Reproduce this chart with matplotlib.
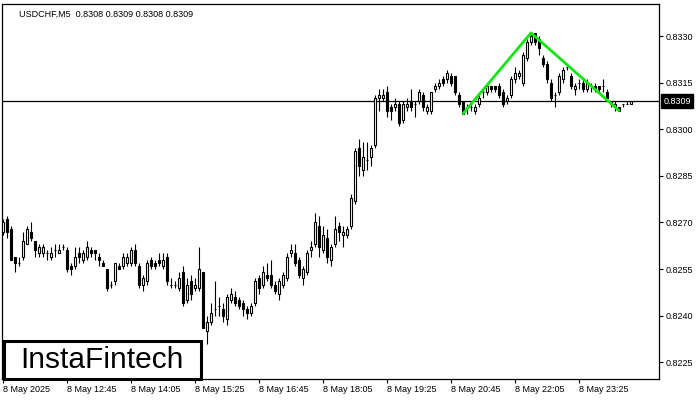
import numpy as np
import matplotlib
matplotlib.use("Agg")
import matplotlib.pyplot as plt
from matplotlib.patches import Rectangle

plt.rcParams['font.family'] = ['Liberation Sans', 'DejaVu Sans']

# USDCHF M5 candles, 8 May 2025 from 11:25
opens = [
    0.8267, 0.8271, 0.8268, 0.8259, 0.8257, 0.8259, 0.8263, 0.8267, 0.8264, 0.8260,
    0.8260, 0.8260, 0.8259, 0.8261, 0.8260, 0.8262, 0.8261, 0.8256, 0.8256, 0.8260,
    0.8258, 0.8259, 0.8261, 0.8261, 0.8259, 0.8257, 0.8255, 0.8250, 0.8251, 0.8256,
    0.8256, 0.8257, 0.8257, 0.8261, 0.8256, 0.8250, 0.8251, 0.8258, 0.8257, 0.8258,
    0.8256, 0.8259, 0.8250, 0.8250, 0.8249, 0.8254, 0.8245, 0.8251, 0.8249, 0.8249,
    0.8254, 0.8235, 0.8238, 0.8242, 0.8243, 0.8242, 0.8239, 0.8245, 0.8246, 0.8245,
    0.8244, 0.8242, 0.8241, 0.8244, 0.8252, 0.8250, 0.8253, 0.8253, 0.8250, 0.8247,
    0.8250, 0.8252, 0.8260, 0.8260, 0.8258, 0.8252, 0.8254, 0.8261, 0.8263, 0.8269,
    0.8261, 0.8265, 0.8258, 0.8263, 0.8269, 0.8266, 0.8266, 0.8269, 0.8277, 0.8294,
    0.8287, 0.8290, 0.8291, 0.8295, 0.8310, 0.8310, 0.8312, 0.8307, 0.8307, 0.8308,
    0.8303, 0.8307, 0.8309, 0.8308, 0.8309, 0.8311, 0.8306, 0.8306, 0.8313, 0.8314,
    0.8316, 0.8316, 0.8317, 0.8317, 0.8311, 0.8309, 0.8307, 0.8307, 0.8306, 0.8308,
    0.8312, 0.8312, 0.8314, 0.8314, 0.8314, 0.8312, 0.8309, 0.8311, 0.8316, 0.8317,
    0.8315, 0.8323, 0.8328, 0.8331, 0.8329, 0.8323, 0.8321, 0.8315, 0.8311, 0.8312,
    0.8316, 0.8320, 0.8317, 0.8313, 0.8315, 0.8315, 0.8313, 0.8314, 0.8314, 0.8314,
    0.8314, 0.8312, 0.8308, 0.8307, 0.8307, 0.8308, 0.8308, 0.8308,
]
highs = [
    0.8271, 0.8272, 0.8269, 0.8259, 0.8259, 0.8267, 0.8269, 0.8270, 0.8264, 0.8263,
    0.8263, 0.8261, 0.8262, 0.8263, 0.8263, 0.8263, 0.8262, 0.8257, 0.8262, 0.8262,
    0.8261, 0.8264, 0.8262, 0.8261, 0.8260, 0.8258, 0.8255, 0.8251, 0.8257, 0.8257,
    0.8260, 0.8260, 0.8262, 0.8263, 0.8257, 0.8253, 0.8258, 0.8259, 0.8258, 0.8260,
    0.8260, 0.8260, 0.8252, 0.8251, 0.8254, 0.8256, 0.8252, 0.8253, 0.8252, 0.8262,
    0.8254, 0.8240, 0.8244, 0.8251, 0.8246, 0.8244, 0.8247, 0.8249, 0.8248, 0.8246,
    0.8245, 0.8243, 0.8244, 0.8252, 0.8253, 0.8256, 0.8257, 0.8258, 0.8251, 0.8252,
    0.8254, 0.8260, 0.8263, 0.8263, 0.8259, 0.8256, 0.8261, 0.8264, 0.8273, 0.8272,
    0.8269, 0.8268, 0.8263, 0.8272, 0.8270, 0.8269, 0.8269, 0.8279, 0.8294, 0.8297,
    0.8296, 0.8296, 0.8295, 0.8311, 0.8313, 0.8313, 0.8314, 0.8308, 0.8310, 0.8309,
    0.8309, 0.8310, 0.8313, 0.8309, 0.8313, 0.8312, 0.8308, 0.8312, 0.8315, 0.8316,
    0.8317, 0.8319, 0.8318, 0.8317, 0.8312, 0.8309, 0.8308, 0.8309, 0.8308, 0.8311,
    0.8313, 0.8315, 0.8314, 0.8314, 0.8315, 0.8313, 0.8311, 0.8317, 0.8320, 0.8319,
    0.8325, 0.8329, 0.8331, 0.8331, 0.8330, 0.8324, 0.8322, 0.8316, 0.8312, 0.8318,
    0.8320, 0.8320, 0.8318, 0.8315, 0.8316, 0.8316, 0.8316, 0.8315, 0.8315, 0.8314,
    0.8316, 0.8313, 0.8309, 0.8309, 0.8307, 0.8308, 0.8309, 0.8309,
]
lows = [
    0.8266, 0.8265, 0.8258, 0.8254, 0.8256, 0.8258, 0.8263, 0.8264, 0.8259, 0.8259,
    0.8259, 0.8258, 0.8258, 0.8259, 0.8260, 0.8261, 0.8254, 0.8253, 0.8255, 0.8257,
    0.8257, 0.8258, 0.8259, 0.8258, 0.8256, 0.8256, 0.8248, 0.8249, 0.8250, 0.8255,
    0.8255, 0.8256, 0.8256, 0.8256, 0.8249, 0.8248, 0.8250, 0.8255, 0.8255, 0.8256,
    0.8255, 0.8250, 0.8249, 0.8249, 0.8248, 0.8243, 0.8244, 0.8245, 0.8248, 0.8248,
    0.8236, 0.8231, 0.8237, 0.8240, 0.8240, 0.8238, 0.8237, 0.8244, 0.8243, 0.8242,
    0.8240, 0.8239, 0.8240, 0.8243, 0.8247, 0.8249, 0.8251, 0.8249, 0.8247, 0.8245,
    0.8249, 0.8251, 0.8259, 0.8256, 0.8252, 0.8250, 0.8253, 0.8259, 0.8262, 0.8259,
    0.8260, 0.8257, 0.8256, 0.8262, 0.8264, 0.8262, 0.8265, 0.8268, 0.8276, 0.8285,
    0.8285, 0.8287, 0.8288, 0.8294, 0.8306, 0.8309, 0.8304, 0.8303, 0.8306, 0.8301,
    0.8302, 0.8306, 0.8306, 0.8304, 0.8308, 0.8306, 0.8305, 0.8305, 0.8312, 0.8313,
    0.8314, 0.8315, 0.8314, 0.8311, 0.8307, 0.8305, 0.8305, 0.8306, 0.8305, 0.8307,
    0.8310, 0.8311, 0.8312, 0.8312, 0.8310, 0.8307, 0.8308, 0.8310, 0.8315, 0.8316,
    0.8314, 0.8322, 0.8327, 0.8327, 0.8324, 0.8320, 0.8315, 0.8309, 0.8307, 0.8311,
    0.8315, 0.8319, 0.8313, 0.8311, 0.8313, 0.8312, 0.8312, 0.8312, 0.8312, 0.8312,
    0.8312, 0.8309, 0.8307, 0.8306, 0.8306, 0.8307, 0.8308, 0.8308,
]
closes = [
    0.8270, 0.8267, 0.8258, 0.8257, 0.8257, 0.8264, 0.8268, 0.8265, 0.8261, 0.8262,
    0.8262, 0.8260, 0.8260, 0.8261, 0.8261, 0.8262, 0.8255, 0.8255, 0.8259, 0.8259,
    0.8260, 0.8262, 0.8260, 0.8260, 0.8258, 0.8256, 0.8249, 0.8250, 0.8257, 0.8255,
    0.8259, 0.8259, 0.8261, 0.8257, 0.8250, 0.8252, 0.8257, 0.8256, 0.8256, 0.8257,
    0.8258, 0.8251, 0.8250, 0.8250, 0.8252, 0.8244, 0.8250, 0.8247, 0.8250, 0.8255,
    0.8236, 0.8238, 0.8241, 0.8242, 0.8243, 0.8240, 0.8246, 0.8247, 0.8244, 0.8243,
    0.8242, 0.8241, 0.8243, 0.8251, 0.8249, 0.8254, 0.8252, 0.8250, 0.8248, 0.8251,
    0.8253, 0.8259, 0.8261, 0.8257, 0.8253, 0.8255, 0.8260, 0.8262, 0.8270, 0.8262,
    0.8266, 0.8259, 0.8262, 0.8268, 0.8267, 0.8267, 0.8268, 0.8278, 0.8293, 0.8288,
    0.8291, 0.8290, 0.8294, 0.8310, 0.8311, 0.8311, 0.8306, 0.8306, 0.8308, 0.8302,
    0.8308, 0.8308, 0.8307, 0.8308, 0.8312, 0.8307, 0.8307, 0.8312, 0.8314, 0.8315,
    0.8315, 0.8318, 0.8315, 0.8312, 0.8308, 0.8305, 0.8307, 0.8307, 0.8307, 0.8310,
    0.8312, 0.8314, 0.8313, 0.8313, 0.8311, 0.8308, 0.8310, 0.8316, 0.8318, 0.8318,
    0.8324, 0.8328, 0.8330, 0.8328, 0.8326, 0.8321, 0.8316, 0.8310, 0.8311, 0.8317,
    0.8319, 0.8320, 0.8314, 0.8314, 0.8315, 0.8313, 0.8315, 0.8314, 0.8313, 0.8313,
    0.8314, 0.8310, 0.8309, 0.8308, 0.8306, 0.8308, 0.8308, 0.8309,
]

# pattern drawn in green (bar index, price)
pattern_idx = [115, 132, 154]
pattern_price = [0.8305, 0.8331, 0.8306]

price_ticks = [0.8225, 0.8240, 0.8255, 0.8270, 0.8285, 0.8300, 0.8315, 0.8330]
date_idx = [0, 16, 32, 48, 64, 80, 96, 112, 128, 144]
date_labels = ["8 May 2025", "8 May 12:45", "8 May 14:05", "8 May 15:25", "8 May 16:45",
               "8 May 18:05", "8 May 19:25", "8 May 20:45", "8 May 22:05", "8 May 23:25"]
last_price = 0.8309

o = np.array(opens)
h = np.array(highs)
l = np.array(lows)
c = np.array(closes)
idx = np.arange(len(o))
up = c >= o

fig = plt.figure(figsize=(7, 4), dpi=100)
ax = fig.add_axes([2 / 700, 21 / 400, 657 / 700, 375 / 400])

# wicks then bodies
ax.vlines(idx, l, h, color='black', linewidth=0.8, zorder=2)
body_bot = np.minimum(o, c)
body_h = np.abs(c - o)
ax.bar(idx[up], body_h[up], bottom=body_bot[up], width=0.6, color='white',
       edgecolor='black', linewidth=0.8, zorder=3)
ax.bar(idx[~up], body_h[~up], bottom=body_bot[~up], width=0.6, color='black',
       edgecolor='black', linewidth=0.8, zorder=3)

# green pattern line
ax.plot(pattern_idx, pattern_price, color='#11e611', linewidth=2.0, zorder=4,
        solid_capstyle='round')

# current price line
ax.axhline(last_price, color='black', linewidth=0.9, zorder=1)

ax.set_xlim(-0.25, 164)
ax.set_ylim(0.82196, 0.83403)

ax.yaxis.tick_right()
ax.set_yticks(price_ticks)
ax.set_yticklabels([f"{p:.4f}" for p in price_ticks])
ax.set_xticks(date_idx)
ax.set_xticklabels(date_labels, ha='left')
ax.tick_params(axis='both', labelsize=6.5, length=3, width=0.8, color='black')
ax.tick_params(axis='y', pad=2)
ax.tick_params(axis='x', pad=1)
for s in ax.spines.values():
    s.set_linewidth(0.9)

# price label on the right
ax.annotate(f"{last_price:.4f}", xy=(1.0, last_price), xycoords=('axes fraction', 'data'),
            xytext=(3, 0), textcoords='offset points', ha='left', va='center',
            fontsize=6.5, color='white',
            bbox=dict(boxstyle='square,pad=0.25', fc='black', ec='black'))

# header
fig.text(19 / 700, 1 - 14 / 400, "USDCHF,M5  0.8308 0.8309 0.8308 0.8309",
         fontsize=6.5, va='center', ha='left')

# logo box
fig.add_artist(Rectangle((4 / 700, 21 / 400), 197 / 700, 38 / 400, transform=fig.transFigure,
                         facecolor='white', edgecolor='black', linewidth=2.2, zorder=5))
fig.text(102 / 700, 1 - 360 / 400, "InstaFintech", fontsize=21.5, ha='center', va='center',
         color='black', zorder=6)

plt.savefig("out.png", dpi=100)
